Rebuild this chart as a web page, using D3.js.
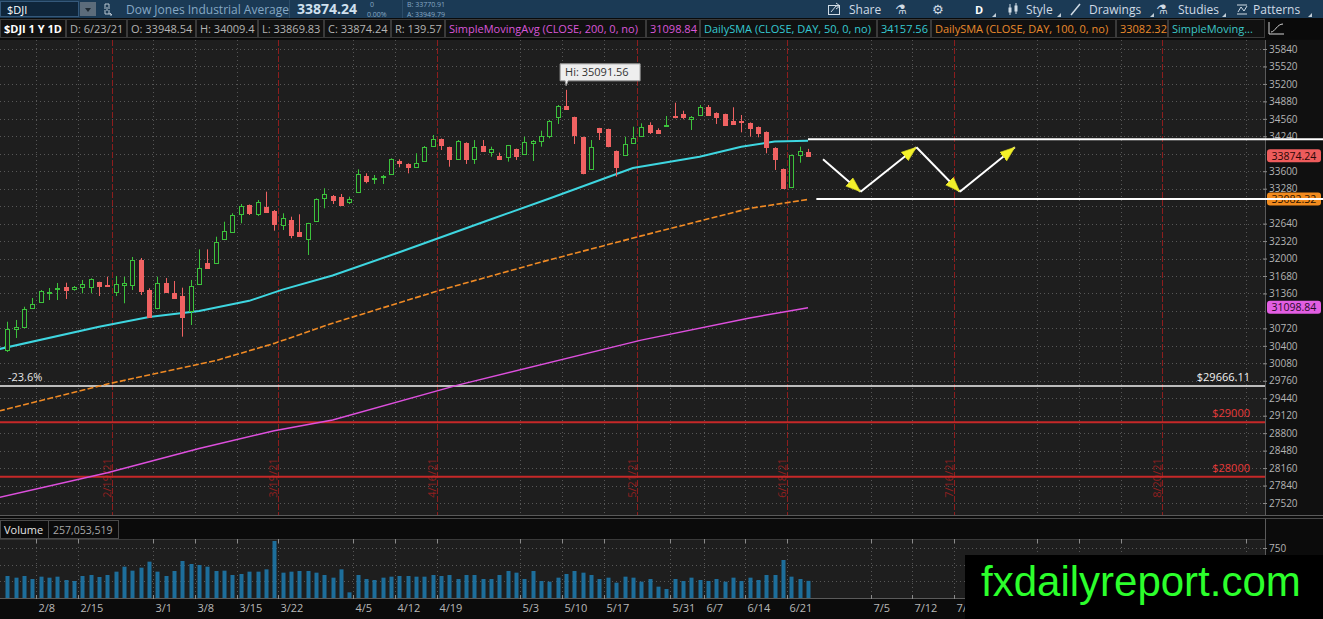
<!DOCTYPE html>
<html lang="en">
<head>
    <meta charset="UTF-8">
    <title>$DJI 1 Y 1D</title>
    <script src="https://d3js.org/d3.v7.min.js"></script>
    <style>
        * {
            margin: 0;
            padding: 0;
            box-sizing: border-box;
        }

        html, body {
            width: 1323px;
            height: 619px;
            overflow: hidden;
            background: #0b0b0b;
        }

        svg {
            display: block;
            font-family: "Open Sans", sans-serif;
        }
    </style>
</head>
<body>
<svg id="chart" width="1323" height="619"></svg>
<script>
    // daily sessions shown on the chart (2021)
    const days = [
        "2/2", "2/3", "2/4", "2/5", "2/8", "2/9", "2/10", "2/11", "2/12", "2/16", "2/17", "2/18", "2/19",
        "2/22", "2/23", "2/24", "2/25", "2/26",
        "3/1", "3/2", "3/3", "3/4", "3/5", "3/8", "3/9", "3/10", "3/11", "3/12", "3/15", "3/16", "3/17",
        "3/18", "3/19", "3/22", "3/23", "3/24", "3/25", "3/26", "3/29", "3/30", "3/31",
        "4/1", "4/5", "4/6", "4/7", "4/8", "4/9", "4/12", "4/13", "4/14", "4/15", "4/16", "4/19", "4/20",
        "4/21", "4/22", "4/23", "4/26", "4/27", "4/28", "4/29", "4/30",
        "5/3", "5/4", "5/5", "5/6", "5/7", "5/10", "5/11", "5/12", "5/13", "5/14", "5/17", "5/18", "5/19",
        "5/21", "5/24", "5/25", "5/27", "5/28",
        "6/1", "6/2", "6/3", "6/4", "6/7", "6/8", "6/9", "6/10", "6/11", "6/14", "6/15", "6/16", "6/17",
        "6/18", "6/21", "6/22", "6/23",
    ]
    const open = [
        30324, 30703, 30751, 31099, 31198, 31374, 31436, 31484, 31436, 31484, 31484, 31565, 31515,
        31392, 31510, 31515, 31973, 31423, 31088, 31546, 31363, 31313, 31044, 31528, 31918, 31913,
        32358, 32481, 32811, 32981, 32816, 32939, 32871, 32609, 32706, 32492, 32353, 32693, 33104,
        33146, 33134, 33042, 33225, 33513, 33458, 33489, 33544, 33787, 33727, 33672, 33793, 34068,
        34191, 34039, 33819, 34117, 33819, 34062, 33952, 33879, 33866, 34007, 33910, 34112, 34160,
        34251, 34588, 34795, 34588, 34222, 33635, 34387, 34374, 33971, 33901, 34123, 34251, 34447,
        34356, 34429, 34618, 34643, 34552, 34630, 34783, 34673, 34649, 34521, 34521, 34489, 34416,
        34324, 34031, 33641, 33317, 33892, 33948.54,
    ]
    const high = [
        30842, 30874, 31117, 31277, 31423, 31460, 31552, 31557, 31497, 31607, 31638, 31575, 31667,
        31680, 31667, 32028, 32010, 31455, 31667, 31643, 31588, 31466, 31607, 32169, 32169, 32400,
        32675, 32829, 32999, 32990, 33073, 33225, 32890, 32829, 32767, 32811, 32655, 33103, 33287,
        33164, 33183, 33133, 33635, 33562, 33531, 33531, 33837, 33819, 33745, 33929, 34062, 34264,
        34200, 34050, 34172, 34130, 34172, 34172, 34050, 33940, 34081, 34015, 34233, 34172, 34343,
        34539, 34814, 35091.56, 34600, 34233, 34172, 34395, 34380, 33980, 34233, 34416, 34478, 34497,
        34387, 34612, 34856, 34709, 34612, 34814, 34814, 34680, 34655, 34772, 34630, 34495, 34420,
        34330, 34040, 33650, 33905, 34050, 34009.4,
    ]
    const low = [
        30287, 30544, 30722, 31094, 31191, 31240, 31240, 31258, 31411, 31363, 31363, 31313, 31497,
        31313, 31180, 31423, 31332, 30923, 31070, 31387, 31271, 30568, 30782, 31515, 31821, 31900,
        32340, 32475, 32646, 32798, 32780, 32847, 32510, 32523, 32371, 32413, 32065, 32680, 32921,
        32999, 32963, 32999, 33214, 33379, 33366, 33366, 33531, 33672, 33562, 33659, 33775, 34050,
        33989, 33683, 33806, 33733, 33733, 33958, 33866, 33819, 33775, 33806, 33897, 33787, 34050,
        34204, 34466, 34735, 34099, 33544, 33623, 34172, 34039, 33500, 33888, 34112, 34246, 34282,
        34282, 34416, 34570, 34552, 34356, 34618, 34618, 34466, 34434, 34460, 34313, 34233, 34222,
        33929, 33623, 33274, 33305, 33756, 33869.83,
    ]
    const close = [
        30709, 30751, 31070, 31161, 31405, 31392, 31466, 31423, 31478, 31533, 31625, 31497, 31505,
        31528, 31546, 31973, 31411, 30934, 31546, 31392, 31282, 30934, 31502, 31821, 31832, 32309,
        32505, 32798, 32963, 32840, 33036, 32858, 32633, 32737, 32431, 32419, 32646, 33091, 33183,
        33073, 32981, 33091, 33544, 33426, 33470, 33513, 33819, 33756, 33683, 33745, 34039, 34196,
        34081, 33824, 34154, 33819, 34050, 33976, 34002, 33824, 34075, 33879, 34141, 34154, 34246,
        34521, 34795, 34740, 34264, 33573, 34039, 34324, 34062, 33678, 34094, 34214, 34416, 34313,
        34295, 34447, 34599, 34599, 34588, 34772, 34630, 34599, 34447, 34466, 34497, 34398, 34306,
        34039, 33824, 33287, 33897, 33971, 33874.24,
    ]
    // volume in millions of shares
    const volume = [
        330, 305, 330, 285, 320, 305, 320, 270, 255, 330, 345, 315, 345, 395, 470, 410, 455, 545,
        395, 330, 405, 555, 510, 495, 470, 405, 410, 345, 360, 395, 395, 430, 855, 380, 395, 405,
        405, 380, 345, 305, 430, 85, 345, 285, 270, 305, 320, 330, 330, 320, 320, 345, 330, 345,
        285, 345, 345, 285, 285, 345, 405, 380, 285, 405, 255, 245, 305, 360, 405, 380, 345, 285,
        305, 230, 320, 305, 245, 285, 170, 135, 285, 255, 305, 270, 255, 285, 245, 305, 255, 305,
        270, 345, 345, 570, 320, 285, 257.053519,
    ]

    // moving averages, read at a few bars (bar -1 = session before the first one)
    const sma50Bar = [ -1, 11, 17, 23, 29, 33, 39, 47, 58, 65, 75, 83, 88, 92, 96 ]
    const sma50 = [ 30340, 30750, 30930, 31040, 31225, 31430, 31690, 32115, 32720, 33100, 33660, 33865, 34050, 34145, 34157.56 ]
    const sma100Bar = [ -1, 12, 25, 32, 39, 52, 64, 76, 89, 96 ]
    const sma100 = [ 29205, 29700, 30130, 30445, 30815, 31425, 31935, 32415, 32920, 33082.32 ]
    const sma200Bar = [ -1, 12, 23, 32, 39, 54, 76, 89, 96 ]
    const sma200 = [ 27620, 28075, 28520, 28845, 29040, 29680, 30505, 30910, 31098.84 ]

    const weekTicks = [ "2/8", "2/15", "3/1", "3/8", "3/15", "3/22", "4/5", "4/12", "4/19", "5/3", "5/10",
        "5/17", "5/31", "6/7", "6/14", "6/21", "7/5", "7/12", "7/19", "8/2", "8/9", "8/16", "9/6" ]
    const expiries = [ "2/19", "3/19", "4/16", "5/21", "6/18", "7/16", "8/20" ]
    const priceTicks = d3.range(27520, 35841, 320)
    const volTicks = [ 250, 500, 750 ]

    const fibLevel = 29666.11
    const fibLabel = "-23.6%"
    const redLevels = [ 29000, 28000 ]
    const chanPrice = [ 34185, 33090 ]
    const chanFrom = [ "6/23", "6/24" ]
    const zigBar = [ 97.8, 102.3, 109, 114.2, 120.8 ]
    const zigPrice = [ 33820, 33225, 34040, 33225, 34040 ]

    const GREEN = "#3cc23c", RED = "#f06262", BG = "#1e1e1e"
    const n = days.length
    const last = n - 1
    const parse = d3.timeParse("%m/%d/%Y")
    const toDate = s => parse(s + "/2021")
    const future = d3.timeDay.range(new Date(2021, 5, 24), new Date(2021, 8, 14))
        .filter(d => d.getDay() % 6 !== 0)
    const sessions = days.map(toDate).concat(future)
    const idxOf = s => d3.bisectLeft(sessions, toDate(s))

    const bars = days.map((d, i) => ({ i, o: open[i], h: high[i], l: low[i], c: close[i], v: volume[i] }))

    const x = d3.scaleLinear().domain([ 0, n - 1 ]).range([ 7.3, 808 ])
    const step = x(1) - x(0)
    const y = d3.scaleLinear().domain([ 27520, 35840 ]).range([ 503, 49 ])
    const yv = d3.scaleLinear().domain([ 0, 750 ]).range([ 598, 548 ])
    const px = v => Math.round(v) + 0.5
    const tickX = s => px(x(idxOf(s)) - step / 2)

    const svg = d3.select("#chart")
    const defs = svg.append("defs")
    defs.append("clipPath").attr("id", "plotClip")
        .append("rect").attr("x", 0).attr("y", 40).attr("width", 1265).attr("height", 475)
    defs.append("clipPath").attr("id", "volClip")
        .append("rect").attr("x", 0).attr("y", 539).attr("width", 1265).attr("height", 60)
    defs.append("marker").attr("id", "arrow")
        .attr("markerUnits", "userSpaceOnUse")
        .attr("markerWidth", 17).attr("markerHeight", 13)
        .attr("refX", 15).attr("refY", 6).attr("orient", "auto")
        .append("path").attr("d", "M0,0.5L15,6L0,11.5Z")
        .attr("fill", "#f2f02a").attr("stroke", "#d6d420").attr("stroke-width", 0.6)

    const text = (g, tx, ty, s, fill, size, extra = {}) => {
        const t = g.append("text").attr("x", tx).attr("y", ty).text(s)
            .attr("fill", fill).attr("font-size", size)
        Object.entries(extra).forEach(([ k, v ]) => t.attr(k, v))
        return t
    }

    // backgrounds
    svg.append("rect").attr("width", 1323).attr("height", 619).attr("fill", "#0b0b0b")
    svg.append("rect").attr("x", 0).attr("y", 40).attr("width", 1265).attr("height", 475).attr("fill", BG)
    svg.append("rect").attr("x", 1265).attr("y", 40).attr("width", 58).attr("height", 475).attr("fill", "#101010")
    svg.append("rect").attr("x", 0).attr("y", 539).attr("width", 1265).attr("height", 59).attr("fill", BG)

    // header row 1
    const head = svg.append("g")
    head.append("rect").attr("width", 1323).attr("height", 18).attr("fill", "#1b3a55")
    head.append("rect").attr("x", 0.5).attr("y", 1.5).attr("width", 78).attr("height", 15)
        .attr("fill", "#0f263b").attr("stroke", "#34587a")
    text(head, 7, 13.5, "$DJI", "#ffffff", 11)
    head.append("rect").attr("x", 80).attr("y", 2).attr("width", 16).attr("height", 14).attr("fill", "#5c6c7b")
    head.append("path").attr("d", "M85,8L91,8L88,12Z").attr("fill", "#1f2a33")
    head.append("path").attr("d", "M105,9L105,4L109,4L109,9M105,10L105,14L109,14L109,10M107,7L107,11M110,13L112,15L110,15Z")
        .attr("fill", "none").attr("stroke", "#b9c6d2")
    text(head, 126, 13.5, "Dow Jones Industrial Average", "#86a8c4", 12)
    head.append("line").attr("x1", 289.5).attr("x2", 289.5).attr("y1", 0).attr("y2", 18).attr("stroke", "#2c4d69")
    text(head, 297, 14, close[last].toFixed(2), "#cfe0ee", 14, { "font-weight": "bold" })
    text(head, 370, 7, "0", "#86a8c4", 7)
    text(head, 367, 16.5, "0.00%", "#86a8c4", 7)
    head.append("line").attr("x1", 402.5).attr("x2", 402.5).attr("y1", 0).attr("y2", 18).attr("stroke", "#2c4d69")
    text(head, 407, 7, "B: 33770.91", "#86a8c4", 7)
    text(head, 407, 16.5, "A: 33949.79", "#86a8c4", 7)

    head.append("rect").attr("x", 828.5).attr("y", 5.5).attr("width", 11).attr("height", 9)
        .attr("fill", "none").attr("stroke", "#d0dbe5")
    head.append("path").attr("d", "M831,12L836,6L839,6M836,3L840,6L836,9").attr("fill", "none").attr("stroke", "#d0dbe5")
    const tools = [ [ "Share", 849 ], [ "Style", 1026 ], [ "Drawings", 1089 ], [ "Studies", 1178 ], [ "Patterns", 1253 ] ]
    tools.forEach(([ s, tx ]) => text(head, tx, 13.5, s, "#d0dbe5", 12))
    text(head, 895, 14, "\u2697", "#d0dbe5", 13, { "font-family": "DejaVu Sans" })
    text(head, 932, 14, "\u2699", "#d0dbe5", 13, { "font-family": "DejaVu Sans" })
    text(head, 975, 13.5, "D", "#ffffff", 11, { "font-weight": "bold" })
    text(head, 1156, 14, "\u2697", "#d0dbe5", 13, { "font-family": "DejaVu Sans" })
    head.append("path").attr("d", "M1010,4L1010,15M1016,3L1016,14").attr("stroke", "#d0dbe5")
    head.append("rect").attr("x", 1008.5).attr("y", 7.5).attr("width", 3).attr("height", 5).attr("fill", "#d0dbe5")
    head.append("rect").attr("x", 1014.5).attr("y", 5.5).attr("width", 3).attr("height", 6).attr("fill", "#d0dbe5")
    head.append("path").attr("d", "M1071,15L1080,4").attr("stroke", "#d0dbe5").attr("stroke-width", 1.5)
    head.append("path").attr("d", "M1237,5L1247,5M1237,14L1247,14M1238,12L1241,7L1244,11L1247,6")
        .attr("fill", "none").attr("stroke", "#d0dbe5")
    ;[ 992, 1057, 1150, 1222, 1308 ].forEach(tx =>
        head.append("path").attr("d", `M${tx},17L${tx + 4},13L${tx + 4},17Z`).attr("fill", "#c0ccd6"))

    // header row 2: study values
    const row = svg.append("g")
    row.append("rect").attr("y", 18).attr("width", 1323).attr("height", 21).attr("fill", "#0a0a0a")
    const cells = [
        [ 0, 66, "$DJI 1 Y 1D", "#ffffff", true ],
        [ 66, 127, `D: ${days[last]}/21`, "#b4b4b4" ],
        [ 127, 196, `O: ${open[last]}`, "#b4b4b4" ],
        [ 196, 258, `H: ${high[last]}`, "#b4b4b4" ],
        [ 258, 324, `L: ${low[last]}`, "#b4b4b4" ],
        [ 324, 391, `C: ${close[last]}`, "#b4b4b4" ],
        [ 391, 445, `R: ${(high[last] - low[last]).toFixed(2)}`, "#b4b4b4" ],
        [ 445, 646, "SimpleMovingAvg (CLOSE, 200, 0, no)", "#d957d9" ],
        [ 646, 700, sma200[sma200.length - 1].toFixed(2), "#d957d9" ],
        [ 700, 877, "DailySMA (CLOSE, DAY, 50, 0, no)", "#35c9d2" ],
        [ 877, 931, sma50[sma50.length - 1].toFixed(2), "#35c9d2" ],
        [ 931, 1116, "DailySMA (CLOSE, DAY, 100, 0, no)", "#ea8a2c" ],
        [ 1116, 1168, sma100[sma100.length - 1].toFixed(2), "#ea8a2c" ],
        [ 1168, 1265, "SimpleMoving...", "#3cc6c6" ],
    ]
    cells.forEach(([ a, b, s, fill, bold ]) => {
        row.append("rect").attr("x", a + 0.5).attr("y", 19.5).attr("width", b - a - 1).attr("height", 18)
            .attr("fill", "#111111").attr("stroke", "#3a3a3a")
        text(row, a + 4, 32.5, s, fill, 11, bold ? { "font-weight": "bold" } : {})
    })
    row.append("path").attr("d", "M1269,34L1284,34M1269,34L1269,22M1271,32C1275,32 1277,24 1283,24")
        .attr("fill", "none").attr("stroke", "#d0d0d0")

    // price panel grid
    const plot = svg.append("g").attr("clip-path", "url(#plotClip)")
    plot.selectAll("line.hgrid").data(priceTicks).join("line").attr("class", "hgrid")
        .attr("x1", 0).attr("x2", 1265).attr("y1", d => px(y(d))).attr("y2", d => px(y(d)))
        .attr("stroke", "#575757").attr("stroke-dasharray", "1,3")
    plot.selectAll("line.vgrid").data(weekTicks).join("line").attr("class", "vgrid")
        .attr("x1", tickX).attr("x2", tickX)
        .attr("y1", 40).attr("y2", 515)
        .attr("stroke", "#575757").attr("stroke-dasharray", "1,3")

    // option expiry lines
    plot.selectAll("line.exp").data(expiries).join("line").attr("class", "exp")
        .attr("x1", d => px(x(idxOf(d) + 0.5))).attr("x2", d => px(x(idxOf(d) + 0.5)))
        .attr("y1", 40).attr("y2", 515)
        .attr("stroke", "#8c1d1d").attr("stroke-dasharray", "6,2")
    plot.selectAll("text.exp").data(expiries).join("text").attr("class", "exp")
        .attr("transform", d => `translate(${x(idxOf(d) + 0.5) - 1},478) rotate(-90)`)
        .attr("text-anchor", "middle").attr("font-size", 11).attr("fill", "#8e2020")
        .text(d => d + "/21")

    // price levels
    plot.append("line").attr("x1", 0).attr("x2", 1265).attr("y1", y(fibLevel)).attr("y2", y(fibLevel))
        .attr("stroke", "#f2f2f2").attr("stroke-width", 1.5)
    text(plot, 8, y(fibLevel) - 4.5, fibLabel, "#e6e6e6", 11)
    text(plot, 1250, y(fibLevel) - 4.5, "$" + fibLevel.toFixed(2), "#f2f2f2", 11, { "text-anchor": "end" })
    plot.selectAll("line.lvl").data(redLevels).join("line").attr("class", "lvl")
        .attr("x1", 0).attr("x2", 1265).attr("y1", d => y(d)).attr("y2", d => y(d))
        .attr("stroke", "#c62828").attr("stroke-width", 2)
    plot.selectAll("text.lvl").data(redLevels).join("text").attr("class", "lvl")
        .attr("x", 1250).attr("y", d => y(d) - 5).attr("text-anchor", "end")
        .attr("font-size", 11).attr("fill", "#e83a3a").text(d => "$" + d)

    // moving averages
    const line = d3.line().x(d => x(d[0])).y(d => y(d[1]))
    const smaPath = (bs, vs, color, width, dash) => plot.append("path")
        .attr("d", line(d3.zip(bs, vs)))
        .attr("fill", "none").attr("stroke", color).attr("stroke-width", width)
        .attr("stroke-dasharray", dash)
    smaPath(sma200Bar, sma200, "#dd4fdd", 1.5, null)
    smaPath(sma100Bar, sma100, "#f08a24", 1.6, "6,2.3")
    smaPath(sma50Bar, sma50, "#3ed6e0", 2, null)

    // candles
    const up = d => d.c >= d.o
    plot.selectAll("line.wick").data(bars).join("line").attr("class", "wick")
        .attr("x1", d => px(x(d.i))).attr("x2", d => px(x(d.i)))
        .attr("y1", d => y(d.h)).attr("y2", d => y(d.l))
        .attr("stroke", d => up(d) ? GREEN : RED)
    plot.selectAll("rect.body").data(bars).join("rect").attr("class", "body")
        .attr("x", d => Math.round(x(d.i)) - 1.5)
        .attr("width", 4)
        .attr("y", d => px(y(Math.max(d.o, d.c))))
        .attr("height", d => Math.max(1, Math.round(y(Math.min(d.o, d.c))) - Math.round(y(Math.max(d.o, d.c)))))
        .attr("fill", d => up(d) ? BG : RED)
        .attr("stroke", d => up(d) ? GREEN : RED)

    // high callout
    const hiI = d3.maxIndex(high)
    const hx = x(hiI), hy = y(high[hiI])
    plot.append("path")
        .attr("d", `M${hx - 6},${hy - 26}h80v17h-72l-2,5l-1,-5h-5z`)
        .attr("fill", "#eeeeee").attr("stroke", "#9a9a9a").attr("stroke-linejoin", "round")
    text(plot, hx - 1, hy - 13.5, `Hi: ${high[hiI]}`, "#333333", 11)

    // channel and zigzag drawing
    const draw = svg.append("g")
    draw.selectAll("line.chan").data(chanPrice).join("line").attr("class", "chan")
        .attr("x1", (d, i) => x(idxOf(chanFrom[i]))).attr("x2", 1323)
        .attr("y1", d => y(d)).attr("y2", d => y(d))
        .attr("stroke", "#ffffff").attr("stroke-width", 2)

    // right price axis, labels under the value tags stay hidden
    const tags = [
        [ close[last], "#ee5c5c", "#2a0808" ],
        [ sma100[sma100.length - 1], "#f28b1e", "#2a1200" ],
        [ sma200[sma200.length - 1], "#e25ee2", "#2a0a2a" ],
    ]
    const shown = priceTicks.filter(t => tags.every(([ v ]) => Math.abs(y(t) - y(v)) > 9))
    svg.append("line").attr("x1", 1265.5).attr("x2", 1265.5).attr("y1", 40).attr("y2", 515).attr("stroke", "#5a5a5a")
    const axis = svg.append("g").attr("transform", "translate(1263,0)")
        .call(d3.axisRight(y).tickValues(shown).tickSize(4).tickPadding(2).tickFormat(d3.format("d")))
    axis.select(".domain").remove()
    axis.selectAll(".tick line").attr("stroke", "#8a8a8a")
    axis.selectAll(".tick text").attr("fill", "#b4b4b4").attr("font-size", 10)
        .attr("font-family", "Open Sans, sans-serif")

    tags.forEach(([ v, fill, ink ]) => {
        svg.append("rect").attr("x", 1267).attr("y", y(v) - 7).attr("width", 54).attr("height", 13)
            .attr("rx", 3).attr("fill", fill)
        text(svg, 1294, y(v) + 3.5, v.toFixed(2), ink, 10.5, { "text-anchor": "middle" })
    })

    draw.raise()
    const zig = d3.zip(zigBar, zigPrice)
    draw.selectAll("line.zig").data(d3.pairs(zig)).join("line").attr("class", "zig")
        .attr("x1", d => x(d[0][0])).attr("y1", d => y(d[0][1]))
        .attr("x2", d => x(d[1][0])).attr("y2", d => y(d[1][1]))
        .attr("stroke", "#ffffff").attr("stroke-width", 2)
        .attr("marker-end", "url(#arrow)")

    // volume panel
    svg.append("line").attr("x1", 0).attr("x2", 1323).attr("y1", 515.5).attr("y2", 515.5).attr("stroke", "#5a5a5a")
    svg.append("line").attr("x1", 0).attr("x2", 1323).attr("y1", 518.5).attr("y2", 518.5).attr("stroke", "#4a4a4a")
    svg.append("rect").attr("x", 0.5).attr("y", 520.5).attr("width", 48).attr("height", 18)
        .attr("fill", "#0b0b0b").attr("stroke", "#4a4a4a")
    svg.append("rect").attr("x", 48.5).attr("y", 520.5).attr("width", 70).attr("height", 18)
        .attr("fill", "#0b0b0b").attr("stroke", "#4a4a4a")
    text(svg, 4, 533.5, "Volume", "#e4e4e4", 11)
    text(svg, 53, 533.5, d3.format(",")(Math.round(volume[last] * 1e6)), "#a8a8a8", 10.5)

    const vg = svg.append("g").attr("clip-path", "url(#volClip)")
    vg.selectAll("line.hgrid").data(volTicks).join("line").attr("class", "hgrid")
        .attr("x1", 0).attr("x2", 1265).attr("y1", d => px(yv(d))).attr("y2", d => px(yv(d)))
        .attr("stroke", "#575757").attr("stroke-dasharray", "1,3")
    vg.selectAll("line.vgrid").data(weekTicks).join("line").attr("class", "vgrid")
        .attr("x1", tickX).attr("x2", tickX)
        .attr("y1", 539).attr("y2", 598)
        .attr("stroke", "#575757").attr("stroke-dasharray", "1,3")
    vg.selectAll("rect.vol").data(bars).join("rect").attr("class", "vol")
        .attr("x", d => Math.round(x(d.i)) - 1.5).attr("width", 4)
        .attr("y", d => yv(d.v)).attr("height", d => 598 - yv(d.v))
        .attr("fill", "#1d6e9b")

    svg.append("line").attr("x1", 0).attr("x2", 1265).attr("y1", 539.5).attr("y2", 539.5).attr("stroke", "#3a3a3a")
    svg.append("line").attr("x1", 0).attr("x2", 1265).attr("y1", 598.5).attr("y2", 598.5).attr("stroke", "#5a5a5a")
    svg.append("line").attr("x1", 1265.5).attr("x2", 1265.5).attr("y1", 519).attr("y2", 599).attr("stroke", "#5a5a5a")

    // watermark box sits over the late date labels, so those are left out
    const wmX = 965
    const xt = svg.append("g")
    weekTicks.forEach(s => {
        const tx = tickX(s)
        xt.append("line").attr("x1", tx).attr("x2", tx).attr("y1", 539).attr("y2", 543).attr("stroke", "#8a8a8a")
        xt.append("line").attr("x1", tx).attr("x2", tx).attr("y1", 595).attr("y2", 599).attr("stroke", "#8a8a8a")
        if (tx + 2 < wmX) text(xt, tx + 2, 612, s, "#b8b8b8", 11)
    })
    svg.append("line").attr("x1", 1263).attr("x2", 1267).attr("y1", px(yv(750))).attr("y2", px(yv(750))).attr("stroke", "#8a8a8a")
    text(svg, 1269, yv(750) + 3.5, "750", "#b4b4b4", 10)

    // watermark
    svg.append("rect").attr("x", wmX).attr("y", 555).attr("width", 1323 - wmX).attr("height", 64).attr("fill", "#000000")
    text(svg, 981, 596, "fxdailyreport.com", "#2cff2c", 42, { "font-family": "Liberation Sans, Arial, sans-serif" })
</script>
</body>
</html>
